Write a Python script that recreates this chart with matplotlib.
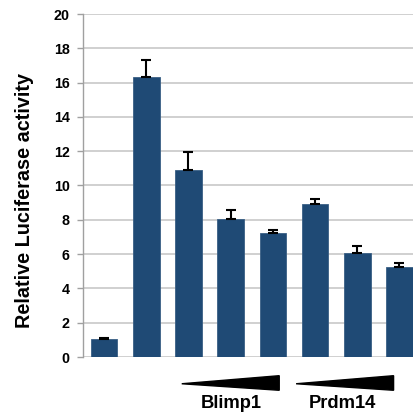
import matplotlib
matplotlib.use("Agg")
import matplotlib.pyplot as plt
from matplotlib.patches import Polygon
import matplotlib.transforms as mtransforms

values = [1.03, 16.33, 10.9, 8.05, 7.25, 8.94, 6.05, 5.23]
errors = [0.08, 1.0, 1.07, 0.5, 0.14, 0.27, 0.4, 0.27]
yticks = [0, 2, 4, 6, 8, 10, 12, 14, 16, 18, 20]
groups = ["Blimp1", "Prdm14"]
group_ranges = [(1.84, 4.15), (4.55, 6.86)]
group_label_x = [3.005, 5.65]

plt.rcParams['font.family'] = ['Liberation Sans', 'DejaVu Sans']

fig = plt.figure(figsize=(4.13, 4.15), dpi=100)
ax = fig.add_axes([83/413, 58/415, 330/413, 343/415])

x = list(range(len(values)))
ax.bar(x, values, width=0.63, color="#1f4a75", edgecolor="#3a5f85", linewidth=0.6, zorder=3)
ax.errorbar(x, values, yerr=[[0]*len(errors), errors], fmt='none', ecolor='black',
            elinewidth=1.5, capsize=3.5, capthick=1.5, zorder=4)

ax.set_xlim(-0.5, 7.32)
ax.set_ylim(0, 20)
ax.set_yticks(yticks)
ax.set_yticklabels([str(t) for t in yticks], fontweight='bold', fontsize=10.3)
ax.set_xticks([])
ax.yaxis.grid(True, color='#c8c8c8', linewidth=1.2, zorder=0)
ax.set_axisbelow(True)
for s in ['top', 'right', 'bottom']:
    ax.spines[s].set_visible(False)
ax.spines['left'].set_color('#a0a0a0')
ax.spines['left'].set_linewidth(1.0)
ax.tick_params(axis='y', length=4, width=1.0, color='#a0a0a0', pad=5.5)

fig.text(25/413, (415-200)/415, "Relative Luciferase activity", rotation=90,
         ha='center', va='center', fontweight='bold', fontsize=14.3)

trans = mtransforms.blended_transform_factory(ax.transData, ax.transAxes)
for name, (x0, x1), lx in zip(groups, group_ranges, group_label_x):
    poly = Polygon([[x0, -0.078], [x1, -0.0545], [x1, -0.097]], closed=True,
                   facecolor='black', edgecolor='black', transform=trans, clip_on=False)
    ax.add_patch(poly)
    ax.text(lx, -0.150, name, transform=trans, ha='center', va='baseline',
            fontweight='bold', fontsize=13.2)

fig.savefig("out.png", dpi=100)
